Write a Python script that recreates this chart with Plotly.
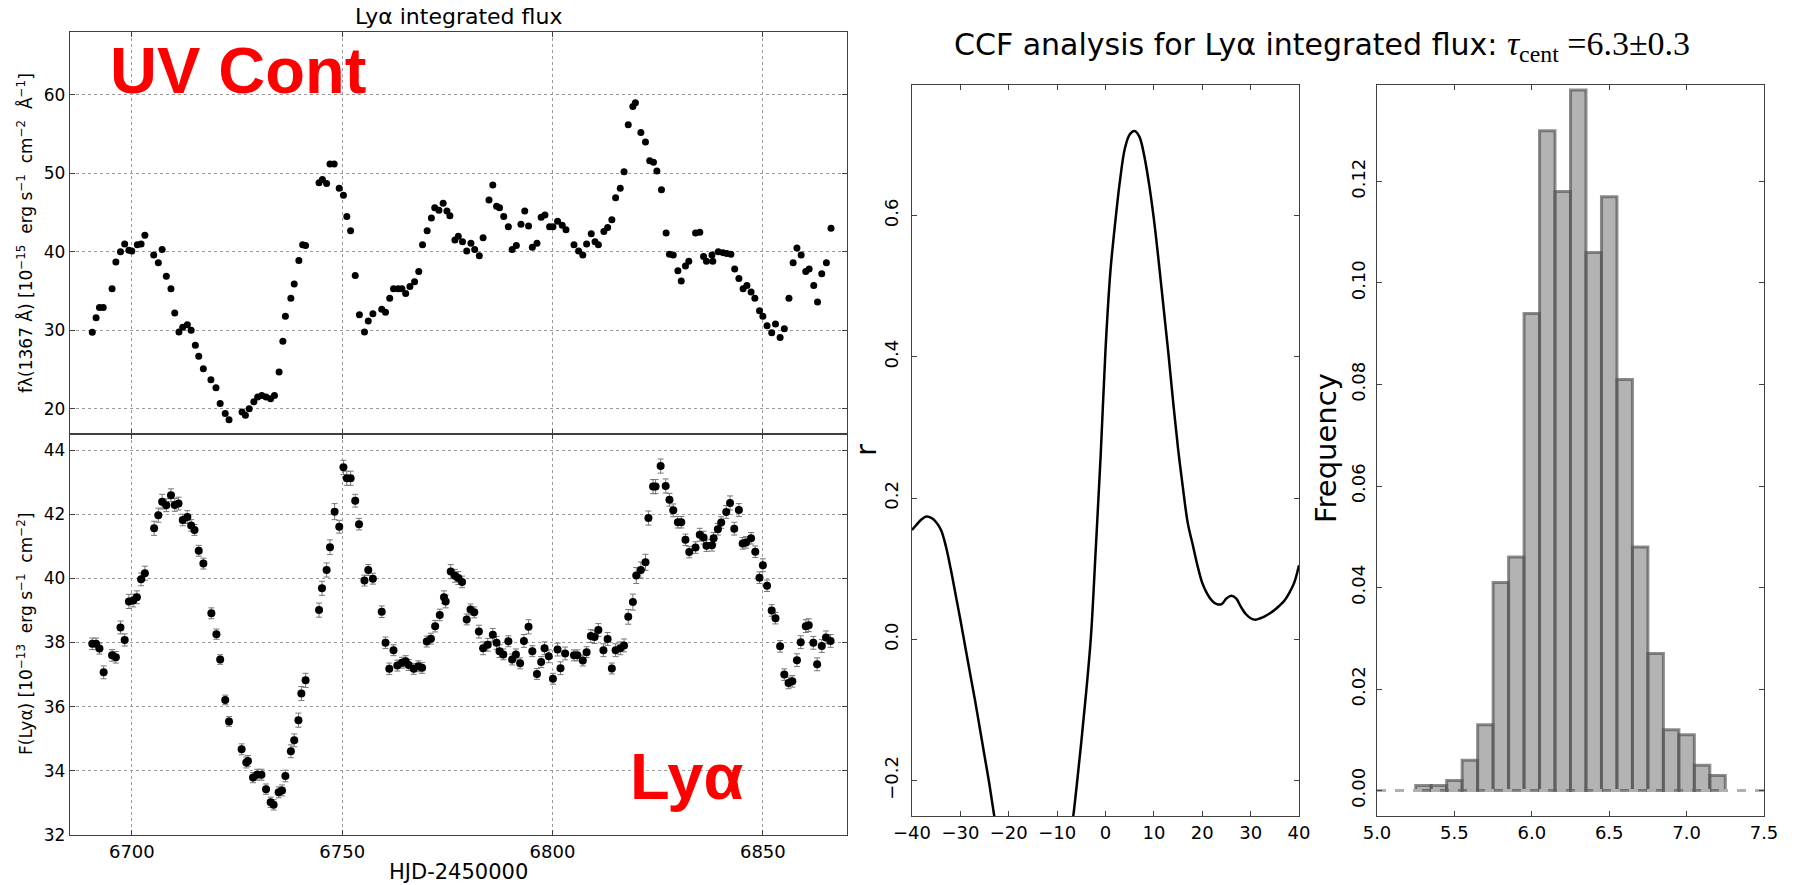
import plotly.graph_objects as go

W, H = 1796, 885

# ---------------- data ----------------
uv_days = [
    6690.6, 6691.5, 6692.3, 6693.2, 6695.3, 6696.2, 6697.3, 6698.3, 6699.3, 6700.0,
    6701.3, 6702.2, 6703.1, 6705.2, 6706.3, 6707.2, 6708.2, 6709.3, 6710.2, 6711.2,
    6712.1, 6713.2, 6714.1, 6715.1, 6715.9, 6717.0, 6718.8, 6720.0, 6721.0, 6722.2,
    6723.1, 6726.2, 6727.0, 6727.9, 6729.0, 6729.9, 6730.9, 6731.9, 6733.0, 6733.9,
    6735.0, 6735.9, 6736.5, 6737.8, 6738.6, 6739.7, 6740.6, 6741.3, 6744.5, 6745.3,
    6746.3, 6747.1, 6748.1, 6749.3, 6750.3, 6751.1, 6752.0, 6753.1, 6754.1, 6755.3,
    6756.2, 6757.3, 6759.4, 6760.3, 6761.3, 6762.2, 6763.3, 6764.2, 6765.1, 6766.1,
    6767.2, 6768.2, 6769.1, 6770.2, 6771.2, 6772.0, 6773.0, 6774.0, 6774.9, 6775.6,
    6776.8, 6777.6, 6778.6, 6779.6, 6780.6, 6781.5, 6782.6, 6783.5, 6784.9, 6785.8,
    6786.7, 6787.4, 6788.4, 6789.5, 6790.4, 6791.4, 6792.5, 6793.4, 6794.3, 6795.2,
    6796.3, 6797.3, 6798.2, 6799.3, 6800.1, 6801.2, 6802.3, 6803.2, 6805.1, 6806.2,
    6807.2, 6808.1, 6809.2, 6810.1, 6810.9, 6812.2, 6813.1, 6814.1, 6815.0, 6816.1,
    6817.0, 6818.0, 6819.1, 6819.7, 6821.0, 6822.1, 6823.1, 6824.0, 6824.8, 6825.9,
    6827.0, 6827.8, 6828.7, 6829.8, 6830.6, 6831.6, 6832.4, 6834.0, 6835.0, 6835.9,
    6836.6, 6837.9, 6838.1, 6839.4, 6840.5, 6841.4, 6842.4, 6843.3, 6844.3, 6845.3,
    6846.2, 6847.2, 6848.1, 6849.2, 6850.0, 6851.0, 6852.1, 6853.0, 6854.1, 6855.1,
    6856.2, 6857.2, 6858.1, 6859.1, 6860.2, 6861.0, 6862.1, 6863.0, 6864.0, 6865.1,
    6866.2,
]
uv_flux = [
    29.75, 31.6, 32.9, 32.9, 35.3, 38.7, 40.0, 41.0, 40.2, 40.1,
    40.9, 41.0, 42.1, 39.6, 38.6, 40.3, 36.9, 35.3, 32.2, 29.8,
    30.4, 30.7, 30.0, 28.1, 26.7, 25.1, 23.7, 22.7, 20.7, 19.4,
    18.6, 19.6, 19.2, 20.0, 20.9, 21.5, 21.7, 21.5, 21.3, 21.7,
    24.7, 28.6, 31.8, 34.1, 35.9, 38.9, 40.9, 40.8, 48.8, 49.2,
    48.7, 51.2, 51.2, 48.1, 47.2, 44.5, 42.7, 37.0, 32.0, 29.8,
    31.2, 32.1, 32.7, 32.3, 34.1, 35.3, 35.3, 35.3, 34.7, 35.6,
    36.2, 37.5, 40.9, 42.7, 44.3, 45.6, 45.3, 46.2, 45.2, 44.6,
    41.5, 42.0, 41.3, 40.1, 41.1, 40.3, 39.5, 41.8, 46.6, 48.5,
    45.8, 45.6, 44.5, 43.2, 40.3, 40.8, 43.5, 45.2, 43.3, 40.6,
    41.1, 44.4, 44.7, 43.2, 43.2, 43.9, 43.4, 42.8, 40.9, 40.1,
    39.6, 41.0, 42.3, 41.3, 40.9, 42.6, 43.1, 44.1, 46.9, 48.1,
    50.2, 56.2, 58.5, 59.0, 55.2, 54.0, 51.6, 51.4, 50.3, 47.9,
    42.4, 39.7, 39.6, 37.6, 36.3, 38.2, 38.8, 42.4, 42.5, 39.4,
    38.8, 39.6, 38.8, 40.0, 39.9, 39.8, 39.7, 37.8, 36.6, 35.3,
    35.7, 34.9, 34.1, 32.5, 31.8, 30.6, 29.7, 30.8, 29.1, 30.2,
    34.1, 38.6, 40.5, 39.6, 37.5, 37.8, 35.7, 33.6, 37.2, 38.6,
    43.0,
]

lya_days = [
    6690.6, 6691.5, 6692.3, 6693.3, 6695.3, 6696.2, 6697.3, 6698.3, 6699.3, 6700.3,
    6701.2, 6702.2, 6703.1, 6705.3, 6706.3, 6707.2, 6708.2, 6709.3, 6710.2, 6711.1,
    6712.1, 6713.2, 6714.1, 6714.9, 6715.9, 6717.0, 6718.9, 6720.1, 6721.0, 6722.2,
    6723.1, 6726.1, 6727.2, 6727.6, 6728.8, 6729.8, 6730.8, 6731.9, 6733.0, 6733.7,
    6734.9, 6735.7, 6736.5, 6737.8, 6738.6, 6739.6, 6740.3, 6741.3, 6744.5, 6745.2,
    6746.3, 6747.1, 6748.2, 6749.3, 6750.3, 6751.1, 6752.0, 6753.1, 6754.0, 6755.3,
    6756.2, 6757.3, 6759.4, 6760.3, 6761.2, 6762.2, 6763.1, 6764.2, 6765.1, 6765.8,
    6767.0, 6768.1, 6769.0, 6770.1, 6771.1, 6772.1, 6773.2, 6774.2, 6774.6, 6775.8,
    6776.8, 6777.6, 6778.5, 6779.6, 6780.5, 6781.4, 6782.5, 6783.5, 6784.6, 6785.8,
    6786.7, 6787.4, 6788.3, 6789.5, 6790.4, 6791.3, 6792.3, 6793.2, 6794.3, 6795.2,
    6796.3, 6797.3, 6798.1, 6799.1, 6800.1, 6801.2, 6801.9, 6803.0, 6805.1, 6805.9,
    6807.2, 6808.1, 6809.1, 6810.0, 6810.9, 6812.1, 6813.1, 6814.1, 6815.0, 6816.1,
    6817.0, 6818.0, 6819.1, 6819.9, 6821.0, 6822.1, 6822.8, 6823.9, 6824.5, 6825.7,
    6826.9, 6827.8, 6828.7, 6829.8, 6830.6, 6831.6, 6832.5, 6834.0, 6835.0, 6835.9,
    6836.6, 6837.9, 6838.3, 6839.3, 6840.1, 6841.3, 6842.2, 6843.2, 6844.3, 6845.2,
    6846.0, 6847.2, 6848.2, 6849.2, 6850.0, 6851.0, 6852.1, 6853.0, 6854.1, 6855.1,
    6856.1, 6857.0, 6858.1, 6859.0, 6860.2, 6860.9, 6862.0, 6862.9, 6864.0, 6865.0,
    6866.1,
]
lya_flux = [
    37.96, 37.96, 37.81, 37.07, 37.60, 37.54, 38.47, 38.08, 39.28, 39.31,
    39.41, 39.97, 40.16, 41.56, 41.97, 42.39, 42.28, 42.59, 42.29, 42.33,
    41.82, 41.91, 41.65, 41.51, 40.86, 40.46, 38.91, 38.26, 37.47, 36.21,
    35.54, 34.67, 34.26, 34.31, 33.79, 33.88, 33.88, 33.43, 33.02, 32.94,
    33.33, 33.39, 33.84, 34.61, 34.95, 35.58, 36.41, 36.82, 39.01, 39.69,
    40.26, 40.97, 42.08, 41.61, 43.46, 43.12, 43.12, 42.42, 41.69, 39.93,
    40.26, 39.99, 38.96, 37.99, 37.18, 37.76, 37.28, 37.37, 37.42, 37.30,
    37.18, 37.26, 37.21, 38.03, 38.12, 38.51, 38.86, 39.41, 39.28, 40.21,
    40.08, 40.01, 39.89, 38.72, 39.03, 38.94, 38.34, 37.82, 37.93, 38.24,
    37.99, 37.73, 37.63, 38.04, 37.47, 37.63, 37.35, 38.05, 38.49, 37.73,
    37.02, 37.39, 37.82, 37.57, 36.87, 37.78, 37.20, 37.66, 37.60, 37.60,
    37.44, 37.70, 38.20, 38.17, 38.39, 37.76, 38.11, 37.19, 37.76, 37.82,
    37.91, 38.80, 39.26, 40.09, 40.26, 40.50, 41.88, 42.86, 42.86, 43.50,
    42.88, 42.45, 42.12, 41.75, 41.75, 41.20, 40.82, 40.96, 41.36, 41.27,
    41.02, 41.03, 41.25, 41.53, 41.74, 42.07, 42.35, 41.55, 42.13, 41.09,
    41.12, 41.25, 40.83, 40.02, 40.41, 39.77, 39.00, 38.76, 37.88, 37.00,
    36.74, 36.79, 37.45, 38.01, 38.51, 38.54, 37.99, 37.32, 37.89, 38.16,
    38.05,
]
lya_err = [
    0.18, 0.18, 0.17, 0.20, 0.18, 0.18, 0.20, 0.19, 0.22, 0.20,
    0.20, 0.20, 0.22, 0.22, 0.22, 0.23, 0.20, 0.20, 0.20, 0.20,
    0.18, 0.20, 0.18, 0.17, 0.17, 0.17, 0.17, 0.16, 0.15, 0.15,
    0.15, 0.17, 0.17, 0.17, 0.16, 0.17, 0.17, 0.16, 0.16, 0.16,
    0.17, 0.17, 0.18, 0.20, 0.20, 0.22, 0.22, 0.22, 0.22, 0.22,
    0.22, 0.23, 0.25, 0.20, 0.22, 0.22, 0.22, 0.20, 0.18, 0.17,
    0.17, 0.17, 0.18, 0.18, 0.18, 0.17, 0.17, 0.17, 0.17, 0.17,
    0.17, 0.17, 0.17, 0.17, 0.17, 0.18, 0.18, 0.20, 0.20, 0.22,
    0.20, 0.20, 0.18, 0.17, 0.17, 0.17, 0.20, 0.20, 0.20, 0.20,
    0.20, 0.20, 0.17, 0.17, 0.17, 0.17, 0.17, 0.20, 0.22, 0.17,
    0.17, 0.17, 0.20, 0.20, 0.17, 0.20, 0.20, 0.20, 0.17, 0.17,
    0.17, 0.17, 0.20, 0.20, 0.20, 0.20, 0.20, 0.17, 0.20, 0.20,
    0.20, 0.23, 0.25, 0.25, 0.25, 0.25, 0.22, 0.22, 0.22, 0.22,
    0.22, 0.20, 0.20, 0.18, 0.18, 0.18, 0.18, 0.18, 0.20, 0.20,
    0.18, 0.18, 0.18, 0.18, 0.18, 0.20, 0.22, 0.20, 0.20, 0.18,
    0.18, 0.18, 0.18, 0.18, 0.20, 0.18, 0.18, 0.18, 0.18, 0.18,
    0.18, 0.18, 0.20, 0.20, 0.20, 0.20, 0.20, 0.20, 0.20, 0.20,
    0.20,
]

ccf_lag = list(range(-40, 41))
ccf_r = [
    0.155, 0.163, 0.170, 0.174, 0.172, 0.166, 0.155, 0.132, 0.100, 0.064,
    0.028, -0.010, -0.048, -0.085, -0.125, -0.165, -0.205, -0.250, -0.290, -0.330,
    -0.360, -0.390, -0.410, -0.430, -0.440, -0.445, -0.440, -0.430, -0.410, -0.380,
    -0.350, -0.320, -0.290, -0.265, -0.210, -0.145, -0.075, 0.005, 0.130, 0.260,
    0.410, 0.520, 0.590, 0.650, 0.695, 0.715, 0.720, 0.712, 0.685, 0.645,
    0.595, 0.535, 0.470, 0.405, 0.335, 0.270, 0.215, 0.165, 0.135, 0.105,
    0.080, 0.065, 0.055, 0.050, 0.050, 0.058, 0.062, 0.058, 0.046, 0.036,
    0.030, 0.028, 0.030, 0.033, 0.037, 0.042, 0.048, 0.055, 0.066, 0.080,
    0.105,
]

hist_centers = [5.3, 5.4, 5.5, 5.6, 5.7, 5.8, 5.9, 6.0, 6.1, 6.2,
                6.3, 6.4, 6.5, 6.6, 6.7, 6.8, 6.9, 7.0, 7.1, 7.2]
hist_freq = [0.001, 0.001, 0.002, 0.006, 0.013, 0.041, 0.046, 0.094, 0.130, 0.118,
             0.138, 0.106, 0.117, 0.081, 0.048, 0.027, 0.012, 0.011, 0.005, 0.003]

# ---------------- helpers ----------------
def px(x):
    return x / W

def py(y):
    return 1 - y / H

FONT = "DejaVu Sans"
AXC = "#404040"

fig = go.Figure()

fig.add_trace(go.Scatter(
    x=uv_days, y=uv_flux, mode="markers",
    marker=dict(color="black", size=7),
    xaxis="x", yaxis="y", showlegend=False))

fig.add_trace(go.Scatter(
    x=lya_days, y=lya_flux, mode="markers",
    marker=dict(color="black", size=8),
    error_y=dict(type="data", array=lya_err, color="#777777", thickness=1, width=3),
    xaxis="x2", yaxis="y2", showlegend=False))

fig.add_trace(go.Scatter(
    x=ccf_lag, y=ccf_r, mode="lines",
    line=dict(color="black", width=2.5, shape="spline"),
    xaxis="x3", yaxis="y3", showlegend=False))

fig.add_trace(go.Bar(
    x=hist_centers, y=hist_freq, width=0.1,
    marker=dict(color="rgba(128,128,128,0.6)",
                line=dict(color="rgba(80,80,80,0.65)", width=3)),
    xaxis="x4", yaxis="y4", showlegend=False))

fig.add_trace(go.Scatter(
    x=[5.0, 7.5], y=[0, 0], mode="lines",
    line=dict(color="#b0b0b0", width=3, dash="dash"),
    xaxis="x4", yaxis="y4", showlegend=False))

def base_axis(**kw):
    d = dict(showline=True, linecolor=AXC, linewidth=1.3, mirror="ticks",
             ticks="inside", ticklen=5, tickcolor=AXC, zeroline=False,
             automargin=False,
             tickfont=dict(family=FONT, size=17, color="black"))
    d.update(kw)
    return d

left_dom = [px(70), px(847)]
grid = dict(showgrid=True, gridcolor="#9a9a9a", gridwidth=1, griddash="dot")

fig.update_layout(
    width=W, height=H,
    margin=dict(l=0, r=0, t=0, b=0, pad=0, autoexpand=False),
    paper_bgcolor="white", plot_bgcolor="white",
    font=dict(family=FONT, color="black"),
    xaxis=base_axis(domain=left_dom, anchor="y", range=[6685.3, 6870],
                    tickvals=[6700, 6750, 6800, 6850], showticklabels=False, **grid),
    yaxis=base_axis(domain=[py(434), py(32)], anchor="x", range=[16.8, 68.0],
                    tickvals=[20, 30, 40, 50, 60], **grid),
    xaxis2=base_axis(domain=left_dom, anchor="y2", range=[6685.3, 6870],
                     tickvals=[6700, 6750, 6800, 6850],
                     tickfont=dict(family=FONT, size=18, color="black"), **grid),
    yaxis2=base_axis(domain=[py(835), py(434)], anchor="x2", range=[32, 44.5],
                     tickvals=[32, 34, 36, 38, 40, 42, 44], **grid),
    xaxis3=base_axis(domain=[px(912), px(1299)], anchor="y3", range=[-40, 40],
                     tickvals=[-40, -30, -20, -10, 0, 10, 20, 30, 40], showgrid=False,
                     tickfont=dict(family=FONT, size=18, color="black")),
    yaxis3=base_axis(domain=[py(816), py(85)], anchor="x3", range=[-0.25, 0.785],
                     tickvals=[-0.2, 0.0, 0.2, 0.4, 0.6], tickformat=".1f",
                     tickangle=-90, showgrid=False, ticklabelstandoff=6,
                     tickfont=dict(family=FONT, size=18, color="black")),
    xaxis4=base_axis(domain=[px(1377), px(1764)], anchor="y4", range=[5.0, 7.5],
                     tickvals=[5.0, 5.5, 6.0, 6.5, 7.0, 7.5], tickformat=".1f",
                     showgrid=False,
                     tickfont=dict(family=FONT, size=18, color="black")),
    yaxis4=base_axis(domain=[py(816), py(85)], anchor="x4", range=[-0.005, 0.139],
                     tickvals=[0.0, 0.02, 0.04, 0.06, 0.08, 0.10, 0.12], tickformat=".2f",
                     tickangle=-90, showgrid=False, ticklabelstandoff=4,
                     tickfont=dict(family=FONT, size=18, color="black")),
)

ann = []
def text(x, y, s, size, **kw):
    d = dict(x=px(x), y=py(y), xref="paper", yref="paper", text=s, showarrow=False,
             font=dict(family=kw.pop("family", FONT), size=size, color=kw.pop("color", "black")),
             xanchor=kw.pop("xanchor", "center"), yanchor=kw.pop("yanchor", "middle"))
    d.update(kw)
    ann.append(d)

text(458, 17, "Lyα integrated flux", 22)
text(458, 872, "HJD-2450000", 21)
text(25, 233, "fλ(1367 Å) [10<sup>−15</sup>  erg s<sup>−1</sup>  cm<sup>−2</sup>  Å<sup>−1</sup>]", 17,
     textangle=-90)
text(25, 634, "F(Lyα) [10<sup>−13</sup>  erg s<sup>−1</sup>  cm<sup>−2</sup>]", 17, textangle=-90)
text(108, 70, "<b>UV Cont</b>", 65, family="Liberation Sans", color="#ff0000", xanchor="left")
text(745, 776, "<b>Lyα</b>", 65, family="Liberation Sans", color="#ff0000", xanchor="right")
text(866, 450, "r", 29, textangle=-90)
text(1326, 448, "Frequency", 29, textangle=-90)
text(1322, 46,
     "CCF analysis for Lyα integrated flux: "
     "<span style=\"font-family:'Liberation Serif';font-size:34px\"><i>τ</i><sub>cent</sub> =6.3±0.3</span>",
     30)

fig.update_layout(annotations=ann)

fig.write_html("out.html")
